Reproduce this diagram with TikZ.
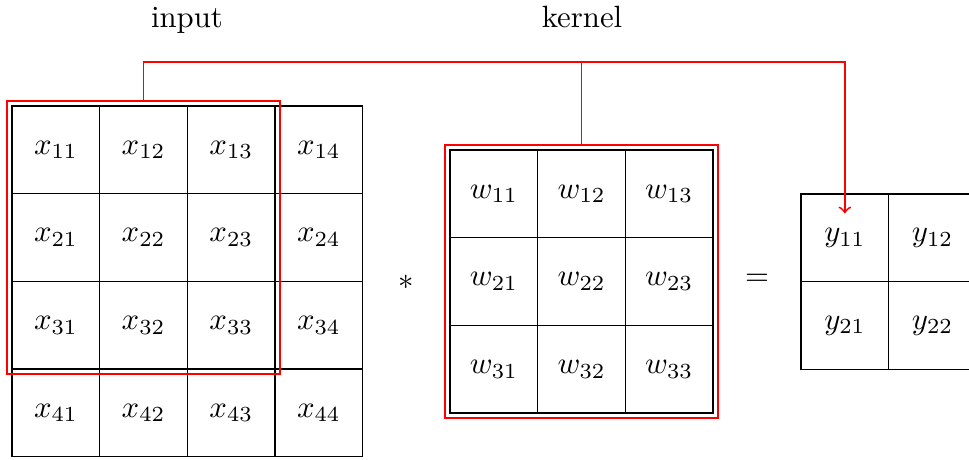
\documentclass[tikz,border=0pt]{standalone}
\usetikzlibrary{fit,calc}
\begin{document}
\begin{tikzpicture}[x=0.325pt,y=-0.325pt,
  cell/.style={draw=black,minimum size=28.5pt,inner sep=0pt,anchor=center},
  hilite/.style={draw,color=red,line width=0.6pt,inner sep=1.3pt},
  link/.style={color=red,line width=0.6pt}]
\useasboundingbox (0,0) rectangle (969,459);
\clip (0,0) rectangle (969,459);
% input matrix
\foreach \i in {1,...,4}{
  \foreach \j in {1,...,4}{
    \node[cell] (in-\i-\j) at ({55.85+87.7*(\j-1)},{149.85+87.7*(\i-1)}) {$x_{\i\j}$};
  }
}
% kernel matrix
\foreach \i in {1,...,3}{
  \foreach \j in {1,...,3}{
    \node[cell] (k-\i-\j) at ({493.85+87.7*(\j-1)},{193.85+87.7*(\i-1)}) {$w_{\i\j}$};
  }
}
% output matrix
\foreach \i in {1,2}{
  \foreach \j in {1,2}{
    \node[cell] (out-\i-\j) at ({844.85+87.7*(\j-1)},{237.85+87.7*(\i-1)}) {$y_{\i\j}$};
  }
}
\node[hilite,fit=(in-1-1)(in-3-3)] (inbox) {};
\node[hilite,fit=(k-1-1)(k-3-3)] (kbox) {};
\node[anchor=base] (linput) at (187,27.5) {input};
\node[anchor=base] (lkernel) at (582,27.5) {kernel};
\node (star) at (406,282) {$*$};
\node (eq) at (757,280) {$=$};
\coordinate (top) at (582,62);
\coordinate (tip) at ($(out-1-1.north)+(0,20)$);
\draw[link] (kbox.north) -- (kbox.north |- top);
\draw[link,->] (inbox.north) -- (inbox.north |- top) -- (tip |- top) -- (tip);
\end{tikzpicture}
\end{document}
